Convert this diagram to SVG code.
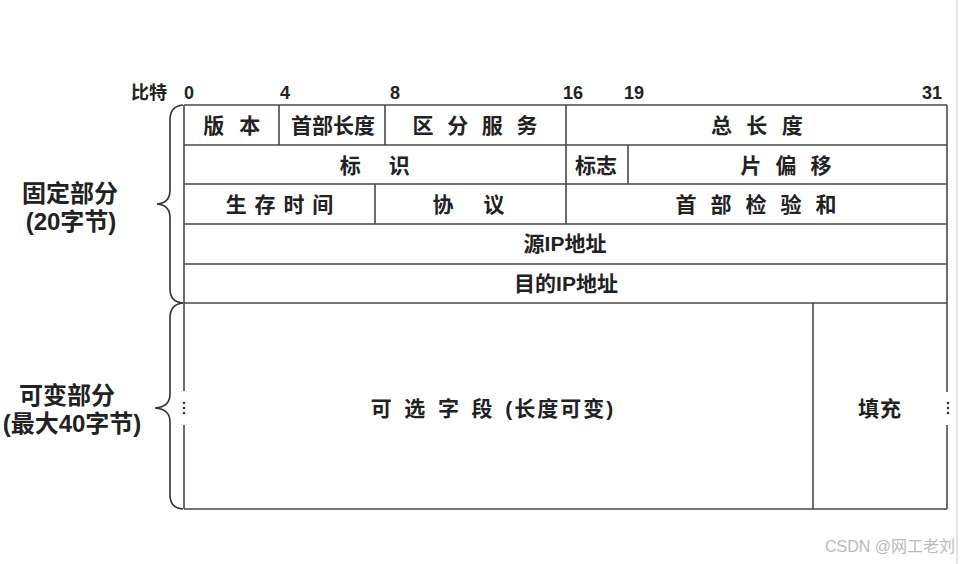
<svg xmlns="http://www.w3.org/2000/svg" width="962" height="564" viewBox="0 0 962 564">
<style>
.ln{stroke:#4a4a4a;stroke-width:1.6;fill:none}
.br{stroke:#333;stroke-width:1.6;fill:none}
.t{font-family:"Liberation Sans","Noto Sans CJK SC",sans-serif;font-weight:bold;font-size:21px;fill:#222;text-anchor:middle;dominant-baseline:central}
.n{font-family:"Liberation Sans","Noto Sans CJK SC",sans-serif;font-weight:bold;font-size:18px;fill:#222;dominant-baseline:central}
.s{font-family:"Liberation Sans","Noto Sans CJK SC",sans-serif;font-weight:bold;font-size:24px;fill:#222;text-anchor:middle;dominant-baseline:central}
.dot{fill:#333}
</style>
<rect width="962" height="564" fill="#fff"/>
<line x1="957" y1="0" x2="957" y2="564" stroke="#ddd" stroke-width="1.5"/>
<g id="bits">
<text class="n" x="131" y="93">比特</text>
<text class="n" x="184" y="93">0</text>
<text class="n" x="280" y="93">4</text>
<text class="n" x="390" y="93">8</text>
<text class="n" x="563" y="93">16</text>
<text class="n" x="624" y="93">19</text>
<text class="n" x="922" y="93">31</text>
</g>
<g id="connectors">
<path class="ln" d="M184,105 H947 M184,145 H947 M184,184 H947 M184,224 H947 M184,264 H947 M184,303 H947 M184,509 H947"/>
<path class="ln" d="M184,105 V391 M184,425 V509 M947,105 V392 M947,425 V509"/>
<path class="ln" d="M279,105 V145 M385,105 V145 M566,105 V224 M628,145 V184 M375,184 V224 M813,303 V509"/>
<path class="br" d="M183,105 Q170,106 170,120 V190 Q170,203 157,204 Q170,205 170,218 V289 Q170,302 183,303"/>
<path class="br" d="M183,303 Q170,304 170,318 V394 Q170,407 155,408 Q170,409 170,422 V495 Q170,508 183,509"/>
<circle class="dot" cx="184" cy="403" r="1.3"/><circle class="dot" cx="184" cy="408" r="1.3"/><circle class="dot" cx="184" cy="413" r="1.3"/>
<circle class="dot" cx="948" cy="403" r="1.3"/><circle class="dot" cx="948" cy="408" r="1.3"/><circle class="dot" cx="948" cy="413" r="1.3"/>
</g>
<g id="version"><text class="t" x="234" y="125" letter-spacing="4.5">版 本</text></g>
<g id="ihl"><text class="t" x="333" y="125">首部长度</text></g>
<g id="ds"><text class="t" x="477" y="125" letter-spacing="3.9">区 分 服 务</text></g>
<g id="total-length"><text class="t" x="759" y="125" letter-spacing="4.3">总 长 度</text></g>
<g id="identification"><text class="t" x="376" y="165" letter-spacing="2.6" xml:space="preserve">标   识</text></g>
<g id="flags"><text class="t" x="596" y="165">标志</text></g>
<g id="fragment-offset"><text class="t" x="788" y="165" letter-spacing="4.1">片 偏 移</text></g>
<g id="ttl"><text class="t" x="280" y="204" letter-spacing="1">生 存 时 间</text></g>
<g id="protocol"><text class="t" x="470" y="204" letter-spacing="3.1" xml:space="preserve">协   议</text></g>
<g id="checksum"><text class="t" x="758" y="204" letter-spacing="4.1">首 部 检 验 和</text></g>
<g id="src"><text class="t" x="565" y="243">源IP地址</text></g>
<g id="dst"><text class="t" x="566" y="283">目的IP地址</text></g>
<g id="options"><text class="t" x="493" y="408"><tspan letter-spacing="3.4">可 选 字 段 </tspan><tspan letter-spacing="2">(长度可变)</tspan></text></g>
<g id="padding"><text class="t" x="880" y="408" letter-spacing="1">填充</text></g>
<g id="fixed-label">
<text class="s" x="70" y="193">固定部分</text>
<text class="s" x="71" y="221">(20字节)</text>
</g>
<g id="variable-label">
<text class="s" x="67" y="395">可变部分</text>
<text class="s" x="72" y="423">(最大40字节)</text>
</g>
<text x="955" y="546" text-anchor="end" font-family="Liberation Sans,'Noto Sans CJK SC',sans-serif" font-size="16" fill="#bbb" dominant-baseline="central">CSDN @网工老刘</text>
</svg>
